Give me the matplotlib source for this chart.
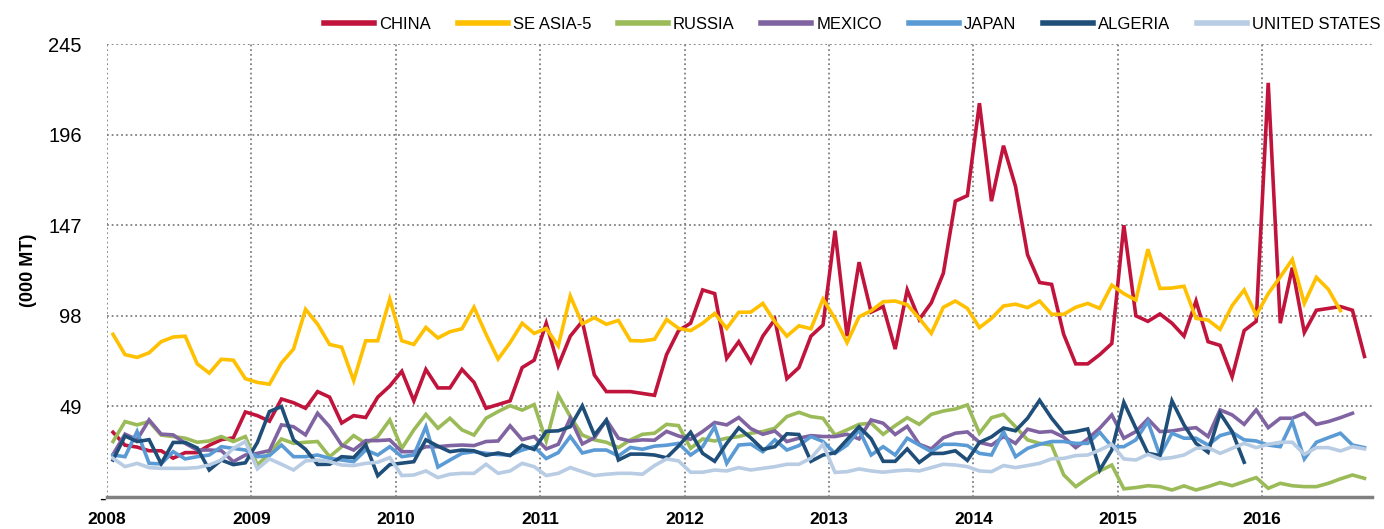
import numpy as np
import matplotlib
matplotlib.use("Agg")
import matplotlib.pyplot as plt
import matplotlib.transforms as mtransforms

plt.rcParams["font.family"] = ["Liberation Sans", "DejaVu Sans"]

# monthly imports, (000 MT), Jan 2008 onwards
china = [35, 28, 27, 25, 25, 21, 24, 24, 28, 31, 32, 46,
         44, 41, 53, 51, 48, 57, 54, 40, 44, 43, 54, 60,
         68, 52, 69, 59, 59, 69, 62, 48, 50, 52, 70, 74,
         94, 71, 87, 95, 66, 57, 57, 57, 56, 55, 77, 90,
         94, 112, 110, 75, 84, 73, 87, 96, 64, 70, 87, 93,
         144, 87, 127, 100, 103, 80, 112, 96, 105, 121, 160, 163,
         213, 160, 190, 168, 131, 116, 115, 88, 72, 72, 77, 83,
         147, 98, 95, 99, 94, 87, 106, 84, 82, 65, 90, 95,
         224, 94, 124, 89, 101, 102, 103, 101, 76]
se_asia = [88, 77, 75.5, 78, 84, 86.5, 87, 72, 67, 74.5, 74, 64,
           62, 61, 72.5, 80, 101.5, 93.5, 82.5, 81, 63, 84.5, 84.5, 107,
           84.5, 82.5, 91.7, 86, 89.4, 91, 102.6, 88, 74.6, 83.5, 94, 88.5,
           91.2, 81.7, 108.7, 93.6, 97, 93.4, 95.5, 84.6, 84.4, 85.3, 96, 91.2,
           90, 94, 99.3, 91.2, 99.9, 100, 104.7, 94.8, 87, 92.6, 91, 107,
           96.5, 83.5, 97.5, 100.7, 105.6, 106, 104, 96.6, 88.5, 102.6, 106, 102,
           91.6, 96.6, 103.3, 104.3, 102.4, 106, 98.8, 98.8, 102.6, 104.7, 102, 114.6,
           110, 106.5, 134, 112.8, 113, 114, 96.6, 95.7, 90.7, 103.5, 112, 98.3,
           110, 119, 128.5, 104.7, 118.8, 112.3, 100.8]
russia = [30, 40.8, 39, 40.8, 33.5, 32.7, 31.8, 29.6, 30.3, 32.7, 30, 32.7,
          17.3, 23.6, 31.4, 29, 29.6, 30, 21.8, 27.2, 33.2, 29, 32.7, 41.7,
          26.3, 36.3, 44.7, 37.2, 42.6, 36.3, 33.5, 42.6, 46.2, 49.4, 47, 50,
          30.3, 55.2, 43.5, 33.5, 30.9, 29.6, 26.7, 30.9, 33.9, 34.5, 39.3, 38.6,
          26.3, 31.4, 30.3, 31.8, 32.7, 34.5, 35.4, 37.2, 43.5, 45.8, 43.5, 42.6,
          33.5, 36.3, 39.3, 39.9, 33.9, 38.6, 42.9, 39.3, 44.7, 46.5, 47.6, 49.8,
          34.5, 42.9, 44.7, 38, 30.9, 29, 28.1, 12, 5.6, 10.1, 14.1, 17.3,
          4.4, 5.1, 6.1, 5.6, 3.8, 6, 3.8, 5.6, 7.8, 6.1, 8.3, 10.5,
          4.7, 7.4, 6.1, 5.6, 5.6, 7.4, 9.8, 11.9, 10.1]
mexico = [23, 34, 31, 41.7, 34, 33.6, 29, 25.4, 25.4, 25.1, 19.1, 22.7,
          23.6, 25.1, 39, 38, 33.6, 45.3, 38, 28.1, 25.4, 30.5, 30.5, 30.9,
          24.5, 24.5, 27.2, 27.2, 27.8, 28.1, 27.8, 30, 30.3, 38.5, 31, 32.7,
          26, 28.5, 42.6, 28.7, 32, 41.7, 31.8, 30.2, 30.9, 30.7, 35.5, 33,
          31.2, 35.4, 40.3, 39, 43, 37, 33.9, 35.7, 30, 31.8, 33.2, 32.7,
          32.7, 33.9, 31.4, 41.7, 39.9, 33.8, 38.2, 28.5, 26, 32, 34.5, 35.2,
          29.5, 28, 32.7, 29, 36.7, 35, 35.5, 32.4, 26.7, 31.4, 37.2, 44.4,
          31.8, 35.4, 42.2, 35.4, 35.7, 36.8, 37.5, 32.7, 47.1, 44.4, 39.3, 47.1,
          37.5, 42.6, 42.6, 45.3, 39.3, 40.8, 42.9, 45.3]
japan = [22.7, 21.8, 35.4, 18.2, 17.9, 24.5, 20.6, 21.8, 22.7, 27.2, 26.3, 25.4,
         21.8, 22.4, 28.1, 21.8, 21.8, 22.7, 20.9, 20, 19.1, 25.4, 22.7, 27.2,
         21.8, 22.7, 38, 16.2, 20, 23.6, 24.5, 23.6, 23, 22.7, 25.4, 27.2,
         20.8, 24, 32.7, 23.8, 25.4, 25.4, 22.2, 26.8, 25.8, 27.5, 28, 29,
         22.7, 27.2, 38, 18.2, 28.1, 28.6, 24.5, 30.9, 25.4, 27.8, 32.7, 30,
         23.6, 28.1, 36.3, 22.7, 27.2, 22.7, 31.8, 28.1, 24.5, 28.5, 28.5, 27.8,
         23.6, 22.7, 35.4, 21.8, 26.3, 28.5, 30, 30, 29, 29, 35, 27.2,
         27.2, 30.9, 40.8, 22.4, 34.5, 31.8, 31.8, 28.1, 33.2, 35, 30.9, 30.3,
         28.1, 27.2, 40.8, 20.6, 29.6, 32.1, 34.5, 28.1, 26.7]
algeria = [20, 33, 30, 31, 18, 29.5, 29.5, 26.5, 14.6, 20, 17.5, 18.5,
           29.5, 46.2, 48.9, 30.9, 25.8, 17.6, 17.7, 21.8, 21.3, 28.3, 11.5, 17.5,
           18.3, 19.1, 30.9, 27.5, 24.5, 25.4, 25, 22.5, 23.8, 22.4, 28, 25.7,
           35.5, 35.8, 38, 49.3, 33.5, 41.5, 20, 23.2, 23.2, 22.7, 21.2, 27.6,
           35, 23.6, 19.3, 29, 37.4, 32, 25.7, 27.2, 34.2, 33.8, 19.3, 22.7,
           23.9, 31, 38, 31.5, 19.3, 19.3, 26, 18.7, 23.5, 23.6, 25, 19.8,
           29.5, 32.5, 37.3, 35.8, 42.6, 52.3, 42.6, 34.6, 35.4, 36.8, 14.6, 25.4,
           51.2, 37.2, 23.6, 22.4, 52, 39, 29, 24.2, 45.3, 35.4, 18.8]
usa = [20.9, 16.4, 18.2, 15.9, 15.5, 15.5, 15.5, 15.9, 17.3, 20, 26.3, 30,
       15.2, 20.6, 17.7, 14.6, 19.5, 20, 19.1, 17.3, 17, 18.2, 18.8, 21.3,
       11.6, 11.9, 14.1, 10.5, 12.3, 12.8, 12.8, 17.7, 12.8, 14.1, 18.2, 16.4,
       11.6, 12.8, 15.9, 13.7, 11.6, 12.3, 12.8, 12.8, 12.3, 17, 20.6, 19.5,
       13.4, 13.4, 14.6, 14.1, 15.9, 14.6, 15.5, 16.4, 17.7, 17.7, 21, 28.5,
       13.3, 13.7, 15.2, 14.1, 13.4, 14.1, 14.6, 14.1, 15.9, 17.7, 17.3, 16.4,
       14.1, 13.7, 17, 15.9, 17, 18.2, 20.6, 20.9, 22.4, 22.7, 25.4, 28.5,
       20.6, 20, 23.1, 20.6, 21.3, 22.7, 26.3, 26.7, 23.6, 26.3, 29, 26.7,
       28.5, 29.6, 29.6, 23.1, 26.7, 26.7, 24.9, 27.2, 26]

names = ["CHINA", "SE ASIA-5", "RUSSIA", "MEXICO", "JAPAN", "ALGERIA", "UNITED STATES"]
series = [china, se_asia, russia, mexico, japan, algeria, usa]
colors = ["#C0143C", "#FFC000", "#9BBB59", "#8064A2", "#5B9BD5", "#1F4E79", "#B8CCE4"]

years = list(range(2008, 2017))
yticks = [0, 49, 98, 147, 196, 245]
ylabels = ["-", "49", "98", "147", "196", "245"]

fig = plt.figure(figsize=(13.84, 5.29), dpi=100)
ax = fig.add_axes([0.0773, 0.0605, 0.9140, 0.8563])

for name, vals, c in zip(names, series, colors):
    x = 2008 + (np.arange(len(vals)) + 0.5) / 12
    ax.plot(x, vals, color=c, lw=2.6, label=name, solid_joinstyle="miter")

ax.set_xlim(2008, 2016.76)
ax.set_ylim(0, 245)
ax.set_xticks(years)
ax.set_xticklabels([str(y) for y in years], fontweight="bold", fontsize=12.5)
ax.set_yticks(yticks)
ax.set_yticklabels(ylabels, fontsize=14.5)
ax.tick_params(axis="both", length=0)
ax.tick_params(axis="x", pad=11)
ax.tick_params(axis="y", pad=18)
ax.grid(True, color="#808080", linestyle=(0, (1, 1.6)), linewidth=1.3)
ax.set_axisbelow(True)
for s in ["top", "right", "left"]:
    ax.spines[s].set_visible(False)
ax.spines["bottom"].set_color("#808080")
ax.spines["bottom"].set_linewidth(2.5)

# the zero label sits right next to the axis
zero_lab = ax.get_yticklabels()[0]
zero_lab.set_transform(zero_lab.get_transform() +
                       mtransforms.ScaledTranslation(17 / 72, 0, fig.dpi_scale_trans))

ax.set_ylabel("(000 MT)", fontweight="bold", fontsize=13, labelpad=8)

leg = fig.legend(loc="upper right", bbox_to_anchor=(1.008, 0.997), ncol=7, frameon=False,
                 handlelength=3.0, columnspacing=1.6, handletextpad=0.3,
                 prop={"size": 12})
for line in leg.get_lines():
    line.set_linewidth(4)

fig.savefig("out.png", dpi=100)
